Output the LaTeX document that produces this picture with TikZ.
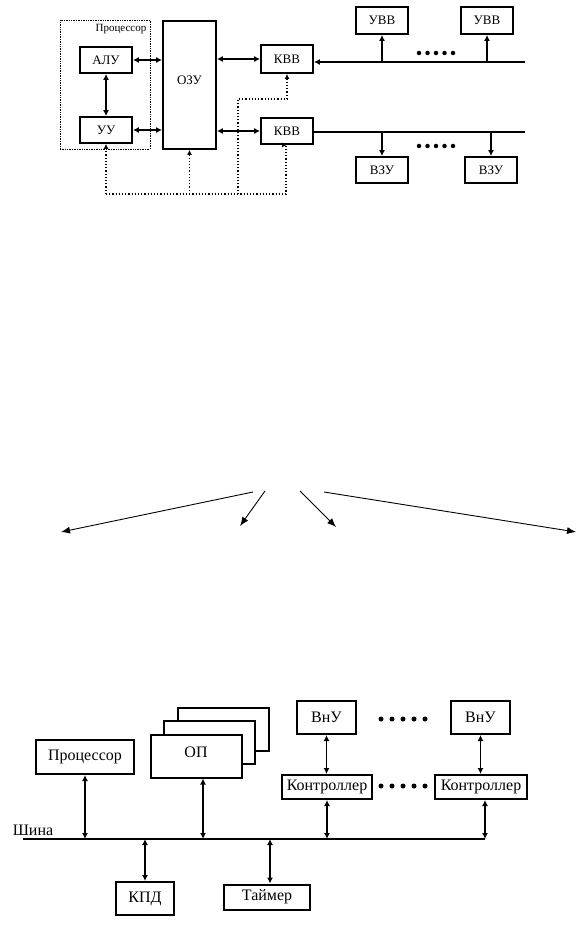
\documentclass[tikz,border=0pt]{standalone}
\usepackage{fontspec}
\setmainfont{Liberation Serif}
\usetikzlibrary{arrows.meta,calc}
\begin{document}
\begin{tikzpicture}[x=1pt,y=-1pt,
  tb/.style={draw,line width=1.8pt,inner sep=0pt,font=\fontsize{13}{14}\selectfont,fill=white},
  bb/.style={draw,line width=2pt,inner sep=0pt,font=\fontsize{16}{18}\selectfont,fill=white},
  biarr/.style={line width=1.8pt,{Latex[length=6pt,width=6pt]}-{Latex[length=6pt,width=6pt]}},
  onearr/.style={line width=1.8pt,-{Latex[length=6pt,width=6pt]}},
  dotarr/.style={line width=1.2pt,dotted,-{Latex[length=5pt,width=5pt]}},
  thinarr/.style={line width=0.9pt,-{Latex[length=9pt,width=7pt]}},
  dotmark/.style={circle,fill,inner sep=0pt,minimum size=4.5pt}]
\useasboundingbox (0,0) rectangle (577,925);
% ---------- top diagram ----------
\node[draw,densely dotted,line width=0.7pt,minimum width=90pt,minimum height=129pt,inner sep=0pt] (proc) at (105,84.5) {};
\node[font=\fontsize{11}{12}\selectfont,inner sep=0pt] (proclbl) at (121,29) {Процессор};
\node[tb,minimum width=52pt,minimum height=26pt] (alu) at (106,60) {АЛУ};
\node[tb,minimum width=52pt,minimum height=26pt] (uu) at (106,130) {УУ};
\node[tb,minimum width=53pt,minimum height=128pt] (ozu) at (189.5,85) {};
\node[font=\fontsize{13}{14}\selectfont,inner sep=0pt] (ozulbl) at (189.5,80) {ОЗУ};
\node[tb,minimum width=52pt,minimum height=28pt] (kvv1) at (287,59) {КВВ};
\node[tb,minimum width=52pt,minimum height=26pt] (kvv2) at (287,131) {КВВ};
\node[tb,minimum width=52pt,minimum height=27pt] (uvv1) at (382,20.5) {УВВ};
\node[tb,minimum width=52pt,minimum height=27pt] (uvv2) at (487,20.5) {УВВ};
\node[tb,minimum width=52pt,minimum height=26pt] (vzu1) at (382,170) {ВЗУ};
\node[tb,minimum width=52pt,minimum height=26pt] (vzu2) at (491,170) {ВЗУ};
\coordinate (bus1e) at (525,62);
\coordinate (bus2e) at (525,132);
\draw[biarr] (alu.east) -- (ozu.west |- alu.east);
\draw[biarr] (uu.east) -- (ozu.west |- uu.east);
\draw[biarr] (alu.south) -- (uu.north);
\draw[biarr] (ozu.east |- kvv1.west) -- (kvv1.west);
\draw[biarr] (ozu.east |- kvv2.west) -- (kvv2.west);
\draw[onearr] (bus1e) -- (kvv1.east |- bus1e);
\draw[onearr] (uvv1.south |- bus1e) -- (uvv1.south);
\draw[onearr] (uvv2.south |- bus1e) -- (uvv2.south);
\draw[line width=1.8pt] (kvv2.east |- bus2e) -- (bus2e);
\draw[onearr] (vzu1.north |- bus2e) -- (vzu1.north);
\draw[onearr] (vzu2.north |- bus2e) -- (vzu2.north);
\foreach \i in {0,...,4} {
  \node[dotmark] (td\i) at (419+8.5*\i,53) {};
  \node[dotmark] (bd\i) at (419+8.5*\i,146) {};
}
\coordinate (dl) at (106,194);
\coordinate (dr) at (286,194);
\coordinate (dm) at (238,194);
\coordinate (dmu) at (238,99);
\draw[dotarr] (dl) -- (dr) -- (dr |- kvv2.south) -- (kvv2.south);
\draw[dotarr] (dl) -- (uu.south);
\draw[dotarr,line width=1.8pt] (ozu.south |- dl) -- (ozu.south);
\draw[dotarr,line width=1.5pt] (dm) -- (dmu) -- (dmu -| kvv1.south) -- (kvv1.south);
% ---------- middle arrows ----------
\coordinate (a1s) at (253,492); \coordinate (a1e) at (61,532);
\coordinate (a2s) at (265,491); \coordinate (a2e) at (240,526);
\coordinate (a3s) at (300,491); \coordinate (a3e) at (336,527);
\coordinate (a4s) at (324,492); \coordinate (a4e) at (576,532);
\draw[thinarr] (a1s) -- (a1e);
\draw[thinarr] (a2s) -- (a2e);
\draw[thinarr] (a3s) -- (a3e);
\draw[thinarr] (a4s) -- (a4e);
% ---------- bottom diagram ----------
\node[bb,minimum width=98pt,minimum height=34pt] (procB) at (85,757) {Процессор};
\node[bb,minimum width=91pt,minimum height=43pt] (op3) at (223,729) {};
\node[bb,minimum width=91pt,minimum height=43pt] (op2) at (209.5,742.5) {};
\node[bb,minimum width=91pt,minimum height=43pt] (op1) at (196,756) {};
\node[font=\fontsize{16}{18}\selectfont,inner sep=0pt] (oplbl) at (196,752) {ОП};
\node[bb,minimum width=58pt,minimum height=33pt] (kpd) at (145,898.5) {КПД};
\node[bb,minimum width=86pt,minimum height=25pt] (tmr) at (267,897) {Таймер};
\node[bb,minimum width=59pt,minimum height=33pt] (vnu1) at (326.5,717.5) {ВнУ};
\node[bb,minimum width=59pt,minimum height=33pt] (vnu2) at (480.5,717.5) {ВнУ};
\node[bb,minimum width=90pt,minimum height=24pt] (ctl1) at (327,787) {Контроллер};
\node[bb,minimum width=92pt,minimum height=24pt] (ctl2) at (481,787) {Контроллер};
\coordinate (busL) at (23,839);
\coordinate (busR) at (485,839);
\draw[line width=2pt] (busL) -- (busR);
\node[font=\fontsize{16}{18}\selectfont,inner sep=0pt,anchor=base] (shina) at (33,835) {Шина};
\draw[biarr] (procB.south) -- (procB.south |- busL);
\draw[biarr] ([xshift=7pt]op1.south) -- ([xshift=7pt]op1.south |- busL);
\draw[biarr] (kpd.north |- busL) -- (kpd.north);
\draw[biarr] ([xshift=3pt]tmr.north |- busL) -- ([xshift=3pt]tmr.north);
\draw[biarr] (vnu1.south) -- (vnu1.south |- ctl1.north);
\draw[biarr] (vnu2.south) -- (vnu2.south |- ctl2.north);
\draw[biarr] (ctl1.south) -- (ctl1.south |- busL);
\draw[biarr] (busR |- ctl2.south) -- (busR);
\foreach \i in {0,...,4} {
  \node[dotmark,minimum size=5pt] (ud\i) at (381+11*\i,719) {};
  \node[dotmark,minimum size=5pt] (ld\i) at (381+11*\i,786) {};
}
\end{tikzpicture}
\end{document}
